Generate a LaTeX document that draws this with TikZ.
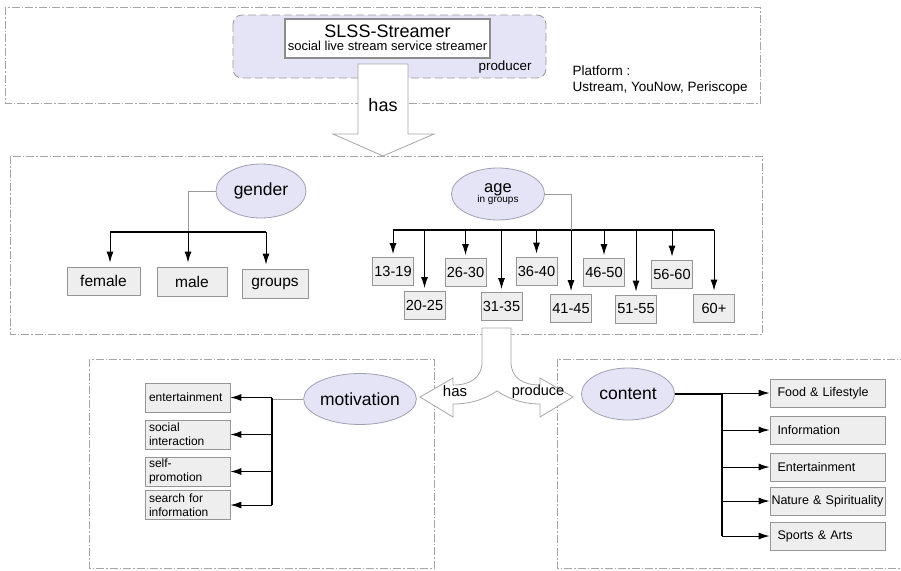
\documentclass[tikz,border=0pt]{standalone}
\usepackage{fontspec}
\setmainfont{Liberation Sans}
\usepackage{tikz}
\usetikzlibrary{shapes.geometric, arrows.meta}

\definecolor{lav}{RGB}{229,228,247}
\definecolor{lavedge}{RGB}{160,160,178}
\definecolor{boxgray}{RGB}{238,238,238}
\definecolor{boxedge}{RGB}{150,150,150}
\definecolor{framegray}{RGB}{165,165,165}

\tikzstyle{frame} = [draw=framegray, line width=0.8pt, dash pattern=on 8pt off 2pt on 1.5pt off 2pt]
\tikzstyle{topic} = [ellipse, draw=lavedge, fill=lav, inner sep=0pt, line width=0.8pt]
\tikzstyle{item} = [rectangle, draw=boxedge, fill=boxgray, inner sep=0pt, line width=0.8pt]
\tikzstyle{arrow} = [line width=1pt, -{Latex[length=11pt,width=7pt]}]
\tikzstyle{bus} = [line width=1.1pt]
\tikzstyle{feed} = [draw=gray!80, line width=0.8pt]
\tikzstyle{fat} = [draw=gray!70, fill=white, line width=0.8pt]

\begin{document}
\begin{tikzpicture}[x=1pt, y=-1pt]
\useasboundingbox (0,0) rectangle (901,570);

% frames
\draw[frame] (5,7) rectangle (760,103);
\draw[frame] (10,156) rectangle (762,334);
\draw[frame] (89,359) rectangle (434,568);
\draw[frame] (557,359) rectangle (915,568);

% streamer
\draw[draw=gray!80, fill=lav, line width=0.8pt, dash pattern=on 8pt off 4pt, rounded corners=9pt]
  (233,15) rectangle (546,78);
\node[draw=gray!90, line width=2pt, fill=white, minimum width=205, minimum height=39, inner sep=0pt, align=center] (slss) at (387.5,38)
  {\fontsize{18}{18}\selectfont SLSS-Streamer\\[1pt]\fontsize{13}{13}\selectfont social live stream service streamer};
\node[anchor=east, font=\fontsize{13.4}{14}\selectfont] (prod) at (535,67) {producer};
\node[anchor=west, align=left, font=\fontsize{13.5}{16}\selectfont] (platform) at (569,80.5) {Platform :\\Ustream, YouNow, Periscope};

\draw[fat] (358,64) -- (408,64) -- (408,134) -- (434,134) -- (383,156) -- (333,134) -- (358,134) -- cycle;
\node[font=\fontsize{18}{18}\selectfont] (has) at (383,105) {has};

% gender
\node[topic, minimum width=90, minimum height=54, font=\fontsize{17.5}{18}\selectfont] (gender) at (261,191) {gender};
\node[item, minimum width=73, minimum height=28, font=\fontsize{15.5}{16}\selectfont] (female) at (103.5,281) {female};
\node[item, minimum width=70, minimum height=29, font=\fontsize{15.5}{16}\selectfont] (male) at (192,281.5) {male};
\node[item, minimum width=66, minimum height=29, font=\fontsize{15.5}{16}\selectfont] (groups) at (275,283.5) {groups};

\coordinate (gl) at (110,232);
\coordinate (gbus) at (188,232);
\coordinate (gr) at (266,232);
\draw[feed] (gender.west) -| (gbus);
\draw[bus] (gl) -- (gr);
\draw[arrow, shorten >=4pt] (gl) -- (gl |- female.north);
\draw[arrow, shorten >=4pt] (gbus) -- (gbus |- male.north);
\draw[arrow, shorten >=4pt] (gr) -- (gr |- groups.north);

% age
\node[topic, minimum width=93, minimum height=52, align=center] (age) at (498,194)
  {\fontsize{16.5}{16}\selectfont age\\[-2pt]\fontsize{10}{10}\selectfont in groups};
\coordinate (abus) at (393,230);
\foreach \lab/\x/\y [count=\i] in {13-19/393/271.5, 20-25/424.5/305.5, 26-30/465.5/272.5, 31-35/501.5/306.5,
  36-40/536.5/271, 41-45/571/308.5, 46-50/604/272.5, 51-55/636/309, 56-60/672/274, 60+/714/308}
{
  \node[item, minimum width=41, minimum height=28, font=\fontsize{14.6}{15}\selectfont] (a\i) at (\x,\y) {\lab};
  \draw[arrow, shorten >=3pt] (a\i.north |- abus) -- (a\i.north);
}
\draw[bus] (a1.north |- abus) -- (a10.north |- abus);
\draw[feed] (age.east) -| (a6.north |- abus);

% motivation
\node[topic, minimum width=93, minimum height=51, font=\fontsize{17.5}{18}\selectfont] (motiv) at (360,399) {motivation};
\foreach \txt/\y [count=\i] in {entertainment/397.5, {social\\interaction}/434.5, {self-\\promotion}/471.5, {search for\\information}/505}
{
  \node[item, minimum width=85, minimum height=29, text width=77, inner xsep=4, align=left,
        font=\fontsize{12}{14}\selectfont] (m\i) at (187.5,\y) {\txt};
}
\coordinate (mbus) at (272,399);
\draw[feed] (motiv.west) -- (mbus);
\draw[bus] (mbus |- m1.east) -- (mbus |- m4.east);
\foreach \i in {1,...,4}
  \draw[arrow] (mbus |- m\i.east) -- (m\i.east);

% content
\node[topic, minimum width=93, minimum height=52, font=\fontsize{17.5}{18}\selectfont] (content) at (628,394) {content};
\foreach \txt/\y/\pad [count=\i] in {Food \& Lifestyle/393/7.5, Information/430/7.5, Entertainment/467/7.5,
  Nature \& Spirituality/501/1.5, Sports \& Arts/536/7.5}
{
  \pgfmathsetmacro\tw{115-2*\pad}
  \node[item, minimum width=115, minimum height=28, text width=\tw pt, inner xsep=\pad pt, align=left,
        font=\fontsize{12.5}{14}\selectfont] (c\i) at (827.5,\y) {\txt};
}
\coordinate (cbus) at (722,394);
\draw[bus] (content.east) -- (cbus);
\draw[bus] (cbus |- c1.west) -- (cbus |- c5.west);
\foreach \i in {1,...,5}
  \draw[arrow] (cbus |- c\i.west) -- (c\i.west);

% split arrow: has / produce
\draw[fat] (482,328) -- (482,362) .. controls (482,378) and (470,385) .. (453,385)
  -- (453,378) -- (420,397) -- (453,417) -- (453,404)
  .. controls (474,404) and (488,397) .. (497,391)
  .. controls (506,397) and (520,404) .. (540,404)
  -- (540,417) -- (573,397) -- (540,378) -- (540,385)
  .. controls (523,385) and (511,378) .. (511,362) -- (511,328) -- cycle;
\node[font=\fontsize{15}{15}\selectfont] (hasm) at (455,391) {has};
\node[font=\fontsize{14.5}{15}\selectfont] (produce) at (538,392) {produce};
\end{tikzpicture}
\end{document}
